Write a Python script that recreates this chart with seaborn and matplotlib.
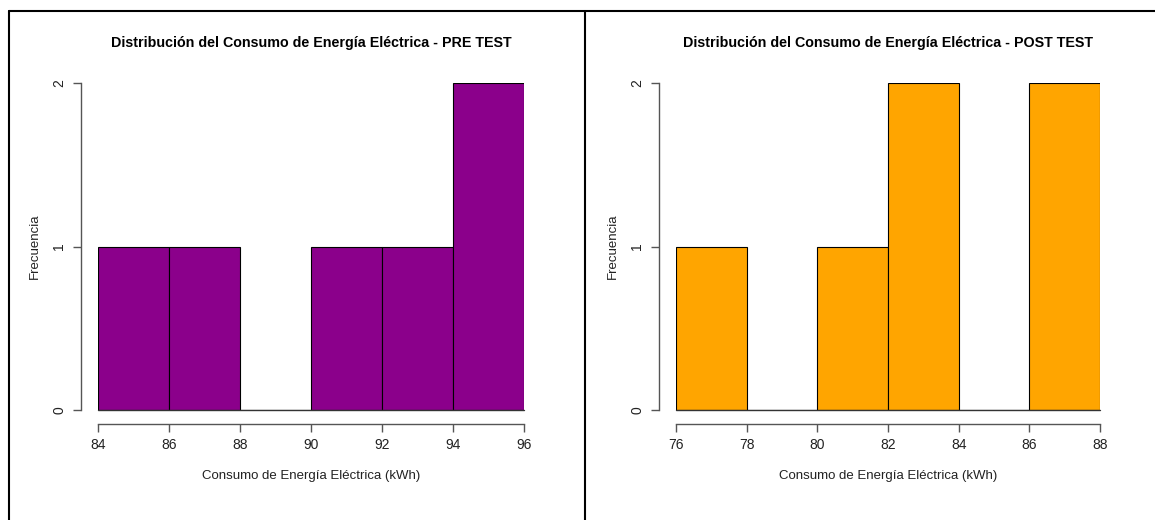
import numpy as np
import pandas as pd
import seaborn as sns
import matplotlib
matplotlib.use("Agg")
import matplotlib.pyplot as plt
from matplotlib.lines import Line2D

# Data: histogram bin edges and counts
pre_edges = [84, 86, 88, 90, 92, 94, 96]
pre_counts = [1, 1, 0, 1, 1, 2]
post_edges = [76, 78, 80, 82, 84, 86, 88]
post_counts = [1, 0, 1, 2, 0, 2]
titles = ["Distribución del Consumo de Energía Eléctrica - PRE TEST",
          "Distribución del Consumo de Energía Eléctrica - POST TEST"]
xlabel = "Consumo de Energía Eléctrica (kWh)"
ylabel = "Frecuencia"
colors = ["#8B008B", "#FFA500"]

sns.set_theme(style="white")
plt.rcParams['font.family'] = ['Liberation Sans', 'DejaVu Sans']

W, H = 1155, 520
fig = plt.figure(figsize=(W / 100, H / 100), dpi=100)

def fx(px):
    return px / W

def fy(py):
    return 1 - py / H

panels = [
    (pre_edges, pre_counts, 98, 524),
    (post_edges, post_counts, 676, 1100),
]

for i, (edges, counts, x0, x1) in enumerate(panels):
    top, bot = 83, 410
    ax = fig.add_axes([fx(x0), fy(bot), fx(x1 - x0), (bot - top) / H])
    centers = [(edges[k] + edges[k + 1]) / 2 for k in range(len(counts))]
    df = pd.DataFrame({"x": centers, "w": counts})
    sns.histplot(data=df, x="x", weights="w", bins=edges, ax=ax,
                 color=colors[i], alpha=1, edgecolor="black", linewidth=0.8)
    ax.axhline(0, color="#333333", linewidth=1.0, zorder=3, clip_on=False)
    ax.set_xlim(edges[0], edges[-1])
    ax.set_ylim(0, 2)
    ax.set_xticks(edges)
    ax.set_xticklabels([str(e) for e in edges])
    ax.set_yticks([0, 1, 2])
    ax.set_yticklabels(["0", "1", "2"])
    for s in ["top", "right"]:
        ax.spines[s].set_visible(False)
    ax.spines["bottom"].set_position(("outward", 10))
    ax.spines["left"].set_position(("outward", 12))
    ax.spines["bottom"].set_bounds(edges[0], edges[-1])
    ax.spines["left"].set_bounds(0, 2)
    for s in ["bottom", "left"]:
        ax.spines[s].set_color("#555555")
        ax.spines[s].set_linewidth(1.0)
    ax.tick_params(axis="both", which="both", length=6, width=1.0,
                   color="#555555", labelsize=10, labelcolor="#222222",
                   bottom=True, left=True, direction="out")
    ax.tick_params(axis="x", pad=4)
    ax.tick_params(axis="y", pad=5, labelrotation=90)
    for lab in ax.get_yticklabels():
        lab.set_va("center")
    ax.set_xlabel(xlabel, fontsize=9.5, color="#222222", labelpad=13)
    ax.set_ylabel(ylabel, fontsize=9.5, color="#222222", labelpad=8)
    ax.set_title(titles[i], fontsize=10.3, fontweight="bold", color="black", pad=26)
    ax.patch.set_alpha(0)

# panel borders
for (xa, ya, xb, yb) in [(9, 11, 1155, 11), (9, 11, 9, 520), (585, 11, 585, 520)]:
    fig.add_artist(Line2D([fx(xa), fx(xb)], [fy(ya), fy(yb)], color="black",
                          linewidth=1.5, transform=fig.transFigure))

fig.savefig("out.png", dpi=100)
